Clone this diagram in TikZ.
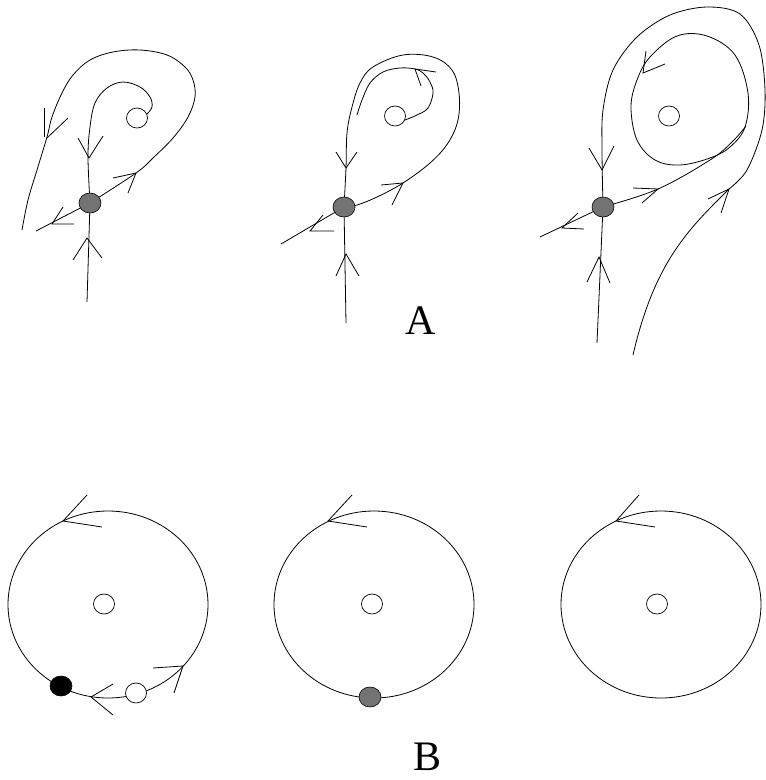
\documentclass[tikz,border=0pt]{standalone}
\usepackage{fontspec}
\setmainfont{Liberation Serif}
\usetikzlibrary{shapes.geometric}
\begin{document}
\begin{tikzpicture}[x=1pt,y=-1pt,
  curve/.style={line width=0.8pt,line join=round},
  head/.style={line width=0.8pt,line join=miter},
  sdot/.style={ellipse,draw,line width=0.6pt,fill=black!55,minimum width=22pt,minimum height=20pt,inner sep=0pt},
  bdot/.style={ellipse,draw,line width=0.6pt,fill=black,minimum width=22pt,minimum height=20pt,inner sep=0pt},
  odot/.style={ellipse,draw,line width=0.7pt,fill=white,minimum width=21pt,minimum height=20pt,inner sep=0pt},
  lab/.style={font=\fontsize{42}{42}\selectfont,inner sep=0pt}]
\useasboundingbox (0,0) rectangle (766,780);

% ---------------- Panel A1 ----------------
\coordinate (s1) at (90,203);
\draw[curve] (87,302) -- (s1);
\draw[curve] (s1) -- (36,231);
\draw[curve] plot[smooth,tension=0.6] coordinates {(s1) (136,173) (153,158) (173,138) (188,117) (195,97) (193,80) (185,67) (167,55) (140,50) (113,52) (90,60) (73,75) (62,93) (52,117) (47,137) (37,170) (28,200) (22,230)};
\draw[curve] plot[smooth,tension=0.6] coordinates {(s1) (88,157) (90,127) (95,103) (107,88) (123,82) (140,87) (150,97) (152,107) (147,114)};
\draw[head] (78,138) -- (89,158) -- (103,136);
\draw[head] (73,260) -- (87,238) -- (102,258);
\draw[head] (113,178) -- (136,173) -- (128,193);
\draw[head] (63,207) -- (52,224) -- (74,224);
\draw[head] (44,108) -- (44,137);
\draw[head] (68,118) -- (47,138);
\node[odot] (f1) at (137,118) {};
\node[sdot] (d1) at (s1) {};

% ---------------- Panel A2 ----------------
\coordinate (s2) at (344,207);
\draw[curve] (346,323) -- (s2);
\draw[curve] (s2) -- (281,244);
\draw[curve] plot[smooth,tension=0.6] coordinates {(s2) (346,168) (347,133) (352,107) (360,83) (373,67) (403,55) (433,57) (452,70) (459,93) (458,120) (448,143) (430,163) (403,183) (377,197) (357,205) (s2)};
\draw[curve] plot[smooth,tension=0.6] coordinates {(405,120) (417,115) (428,108) (433,93) (430,82) (423,73) (415,69) (400,68) (383,72) (370,83) (362,100) (357,115)};
\draw[head] (336,152) -- (346,168) -- (357,152);
\draw[head] (336,276) -- (346,254) -- (359,276);
\draw[head] (381,185) -- (403,183) -- (392,205);
\draw[head] (323,215) -- (310,231) -- (334,231);
\draw[head] (436,72) -- (415,69) -- (421,86);
\node[odot] (f2) at (395,116) {};
\node[sdot] (d2) at (s2) {};

% ---------------- Panel A3 ----------------
\coordinate (s3) at (603,207);
\coordinate (e3) at (633,355);
\draw[curve] (597,343) -- (s3);
\draw[curve] (s3) -- (540,237);
\draw[curve] plot[smooth,tension=0.55] coordinates {(s3) (602,150) (603,110) (613,70) (637,37) (670,15) (707,7) (740,14) (759,45) (765,90) (762,130) (747,170) (729,189)} .. controls (690,228) and (655,260) .. (e3);
\draw[curve] plot[smooth,tension=0.6] coordinates {(s3) (658,189) (710,160) (732,142) (746,126)};
\draw[curve] plot[smooth cycle,tension=0.6] coordinates {(677,36) (707,36) (735,55) (748,93) (745,127) (730,147) (710,158) (680,165) (655,160) (637,140) (631,107) (637,80) (650,57)};
\draw[head] (589,148) -- (602,170) -- (614,146);
\draw[head] (587,282) -- (599,257) -- (610,283);
\draw[head] (633,188) -- (658,189) -- (642,203);
\draw[head] (578,213) -- (562,228) -- (584,229);
\draw[head] (708,199) -- (729,189) -- (721,213);
\draw[head] (646,51) -- (643,73) -- (665,64);
\node[odot] (f3) at (669,116) {};
\node[sdot] (d3) at (s3) {};

\node[lab] (A) at (421,321) {A};

% ---------------- Panel B1 ----------------
\draw[curve] (108,604.5) ellipse [x radius=100, y radius=93.5];
\draw[head] (87,495) -- (63,521) -- (102,527);
\draw[head] (153,668) -- (183,666) -- (174,693);
\draw[head] (113,684) -- (91,697) -- (113,715);
\node[odot] (c1) at (104,604) {};
\node[bdot] (b1) at (61,686) {};
\node[odot] (o1) at (136,693) {};

% ---------------- Panel B2 ----------------
\draw[curve] (374,604.5) ellipse [x radius=100, y radius=93.5];
\draw[head] (352,495) -- (328,521) -- (367,527);
\node[odot] (c2) at (372,604) {};
\node[sdot] (g2) at (370,697) {};

% ---------------- Panel B3 ----------------
\draw[curve] (661,604.5) ellipse [x radius=100, y radius=93.5];
\draw[head] (639,495) -- (616,521) -- (655,527);
\node[odot] (c3) at (657,604) {};

\node[lab] (B) at (428,757) {B};
\end{tikzpicture}
\end{document}
